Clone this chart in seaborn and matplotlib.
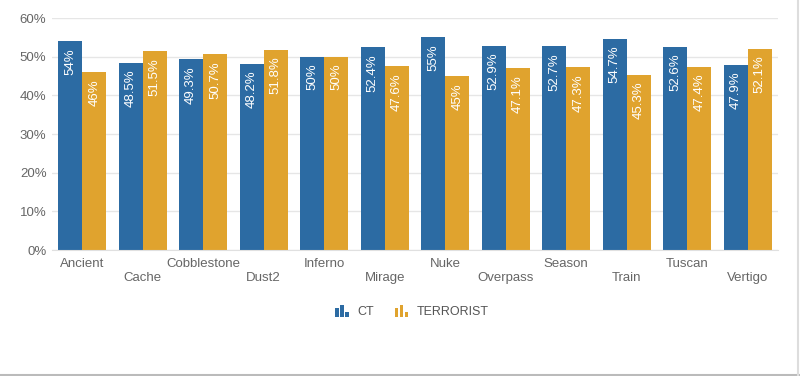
import numpy as np
import pandas as pd
import matplotlib
matplotlib.use("Agg")
import matplotlib.pyplot as plt
from matplotlib.legend_handler import HandlerBase
from matplotlib.patches import Rectangle
from matplotlib.lines import Line2D
from matplotlib.ticker import FuncFormatter
import seaborn as sns

# 데이터
maps = ["Ancient", "Cache", "Cobblestone", "Dust2", "Inferno", "Mirage",
        "Nuke", "Overpass", "Season", "Train", "Tuscan", "Vertigo"]
ct_pct = [54, 48.5, 49.3, 48.2, 50, 52.4, 55, 52.9, 52.7, 54.7, 52.6, 47.9]
t_pct = [46, 51.5, 50.7, 51.8, 50, 47.6, 45, 47.1, 47.3, 45.3, 47.4, 52.1]
sides = ["CT", "TERRORIST"]

CT_COLOR = "#2C6BA3"
T_COLOR = "#E0A32E"
GRAY = "#666666"

df = pd.DataFrame({
    "map": maps * 2,
    "side": [sides[0]] * len(maps) + [sides[1]] * len(maps),
    "pct": ct_pct + t_pct,
})

sns.set_style("white")
plt.rcParams["font.family"] = ["Liberation Sans", "DejaVu Sans"]


class BarIconHandler(HandlerBase):
    """범례 아이콘: 작은 막대 3개"""

    def create_artists(self, legend, orig_handle, xdescent, ydescent,
                       width, height, fontsize, trans):
        color = orig_handle.get_facecolor()
        arts = []
        base = -ydescent - 1.5
        x0 = -xdescent
        for i, h in enumerate([6.5, 9.0, 3.5]):
            r = Rectangle((x0 + i * 3.6, base), 2.4, h,
                          facecolor=color, edgecolor="none", transform=trans)
            arts.append(r)
        return arts


fig = plt.figure(figsize=(8, 3.76), dpi=100)
ax = fig.add_axes([0.065, 0.335, 0.9075, 0.617])

sns.barplot(data=df, x="map", y="pct", hue="side", order=maps,
            palette=[CT_COLOR, T_COLOR], width=0.8, saturation=1,
            edgecolor="none", linewidth=0, ax=ax, legend=False)

# 막대 안 라벨
for container in ax.containers:
    for bar in container:
        v = bar.get_height()
        ax.annotate(f"{v:g}%", (bar.get_x() + bar.get_width() / 2, v),
                    xytext=(0, -5), textcoords="offset points",
                    ha="center", va="top", rotation=90,
                    color="white", fontsize=9.5)

ax.set_ylim(0, 60)
ax.set_yticks(range(0, 61, 10))
ax.yaxis.set_major_formatter(FuncFormatter(lambda v, p: f"{v:g}%"))
ax.set_xlim(-0.5, len(maps) - 0.5)
ax.set_xticks(range(len(maps)))
ax.set_xticklabels([m if i % 2 == 0 else "\n" + m for i, m in enumerate(maps)],
                   va="top")
ax.tick_params(axis="both", length=0, labelsize=9.5, labelcolor=GRAY)
ax.tick_params(axis="x", pad=6)
ax.tick_params(axis="y", pad=4)
ax.set_xlabel("")
ax.set_ylabel("")
ax.grid(axis="y", color="#E6E6E6", linewidth=1)
ax.set_axisbelow(True)
for s in ["top", "right", "left"]:
    ax.spines[s].set_visible(False)
ax.spines["bottom"].set_color("#E0E0E0")

handles = [Rectangle((0, 0), 1, 1, facecolor=CT_COLOR),
           Rectangle((0, 0), 1, 1, facecolor=T_COLOR)]
fig.legend(handles, sides, loc="center", bbox_to_anchor=(0.515, 0.17),
           ncol=2, frameon=False, fontsize=9, labelcolor="#555555",
           handler_map={Rectangle: BarIconHandler()},
           handlelength=1.15, handletextpad=0.6, columnspacing=1.7)

# 바깥 테두리 (오른쪽, 아래)
fig.add_artist(Line2D([0, 1], [0.003, 0.003], transform=fig.transFigure,
                      color="#BBBBBB", linewidth=1.5))
fig.add_artist(Line2D([0.997, 0.997], [0, 1], transform=fig.transFigure,
                      color="#DDDDDD", linewidth=1.5))

fig.savefig("out.png", dpi=100, facecolor="white")
